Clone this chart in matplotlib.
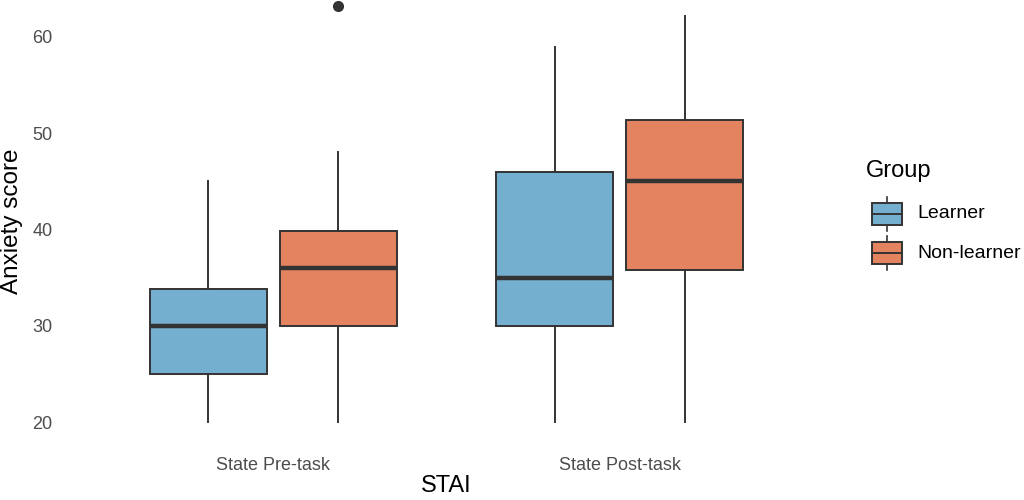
import matplotlib
matplotlib.use("Agg")
import matplotlib.pyplot as plt
from matplotlib.patches import Rectangle

plt.rcParams['font.family'] = ['Liberation Sans', 'DejaVu Sans']

# values
conditions = ["State Pre-task", "State Post-task"]
groups = ["Learner", "Non-learner"]
colors = ["#74AFCF", "#E3835F"]
whislo = [[20, 20], [20, 20]]
q1 = [[25, 30], [30, 35.8]]
med = [[30, 36], [35, 45]]
q3 = [[33.8, 39.8], [46, 51.4]]
whishi = [[45, 48], [59, 62.2]]
fliers = [[[], [63.2]], [[], []]]

edge = "#333333"
fig = plt.figure(figsize=(10.24, 5.0), dpi=100)
ax = fig.add_axes([65 / 1024, 57 / 500, (828 - 65) / 1024, 443 / 500])

slot = 0.75 / 2
for ci, cond in enumerate(conditions):
    for gi, grp in enumerate(groups):
        pos = ci + 1 + (gi - 0.5) * slot
        stats = [dict(med=med[ci][gi], q1=q1[ci][gi], q3=q3[ci][gi],
                      whislo=whislo[ci][gi], whishi=whishi[ci][gi],
                      fliers=fliers[ci][gi])]
        ax.bxp(stats, positions=[pos], widths=slot * 0.9, patch_artist=True,
               showcaps=False,
               boxprops=dict(facecolor=colors[gi], edgecolor=edge, linewidth=1.4),
               whiskerprops=dict(color=edge, linewidth=1.4),
               medianprops=dict(color=edge, linewidth=3.2, solid_capstyle='butt'),
               flierprops=dict(marker='o', markerfacecolor=edge, markeredgecolor=edge,
                               markersize=7))

ax.set_xlim(0.4, 2.6)
ax.set_ylim(17.82, 63.84)
ax.set_xticks([1, 2])
ax.set_xticklabels(conditions)
ax.set_yticks([20, 30, 40, 50, 60])
ax.tick_params(axis='both', length=0, labelsize=13, colors="#4D4D4D")
ax.tick_params(axis='y', pad=9)
ax.tick_params(axis='x', pad=10)
for s in ax.spines.values():
    s.set_visible(False)
ax.set_xlabel("STAI", fontsize=17, labelpad=1)
ax.set_ylabel("Anxiety score", fontsize=17.5, labelpad=7)

# legend drawn in pixel coordinates
lg = fig.add_axes([0, 0, 1, 1])
lg.set_xlim(0, 1024)
lg.set_ylim(500, 0)
lg.axis('off')
lg.text(866, 171, "Group", fontsize=17, va='center', ha='left')
for gi, grp in enumerate(groups):
    yc = 214 + gi * 39
    lg.plot([887, 887], [yc - 17, yc + 17], color=edge, lw=1.2, zorder=1)
    lg.add_patch(Rectangle((872, yc - 11), 30, 22, facecolor=colors[gi],
                           edgecolor=edge, lw=1.4, zorder=2))
    lg.plot([872, 902], [yc, yc], color=edge, lw=1.4, zorder=3)
    lg.text(917, yc, grp, fontsize=14, va='center', ha='left')

fig.savefig("out.png", dpi=100)
